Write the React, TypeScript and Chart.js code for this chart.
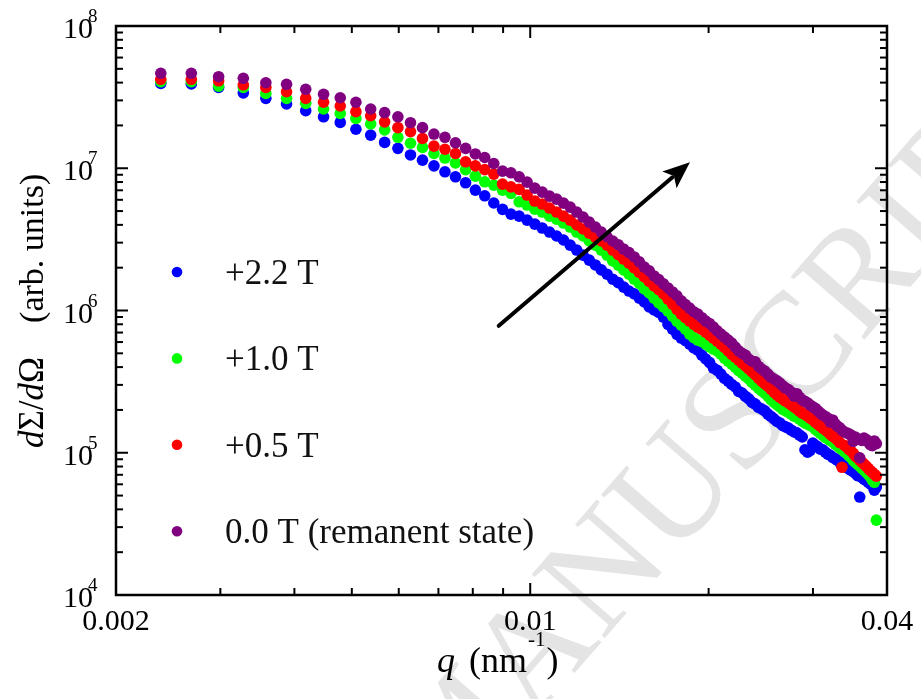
import React, { useEffect, useRef } from "react";
import { Chart, registerables } from "chart.js";

Chart.register(...registerables);

// ---------------- data ----------------
const Q_NM = [
  0.00238, 0.00268, 0.00298, 0.00328, 0.00358, 0.00388, 0.00418, 0.00448, 0.00478, 0.00508,
  0.00538, 0.00568, 0.00598, 0.00628, 0.00658, 0.00688, 0.00718, 0.00748, 0.00778, 0.00808,
  0.00838, 0.00868, 0.00898, 0.00928, 0.00958, 0.00988, 0.01018, 0.01048, 0.01078, 0.01108,
  0.01138, 0.01168, 0.01198, 0.01228, 0.01258, 0.01288, 0.01318,
  0.01348, 0.01378, 0.01408, 0.01438, 0.01468, 0.01498, 0.01528, 0.01558, 0.01588, 0.01618,
  0.01648, 0.01678, 0.01708, 0.01738, 0.01768, 0.01798, 0.01828, 0.01858, 0.01888, 0.01918,
  0.01948, 0.01978, 0.02008, 0.02038, 0.02068, 0.02098, 0.02128, 0.02158, 0.02188, 0.02218,
  0.02248, 0.02278, 0.02308, 0.02338, 0.02368, 0.02398, 0.02428, 0.02458, 0.02488, 0.02518,
  0.02548, 0.02578, 0.02608, 0.02638, 0.02668, 0.02698, 0.02728, 0.02758, 0.02788, 0.02818,
  0.02848, 0.02878, 0.02908, 0.02938, 0.02968, 0.02998, 0.03028, 0.03058, 0.03088, 0.03118,
  0.03148, 0.03178, 0.03208, 0.03238, 0.03268, 0.03298, 0.03328, 0.03358, 0.03388, 0.03418,
  0.03448, 0.03478, 0.03508, 0.03538, 0.03568, 0.03598, 0.03628, 0.03658, 0.03688, 0.03718,
  0.03748, 0.03778, 0.03808, 0.03838,
];

const I_2_2T = [
  3.95e7, 3.91e7, 3.70e7, 3.39e7, 3.10e7, 2.83e7, 2.54e7, 2.30e7, 2.10e7, 1.88e7,
  1.71e7, 1.52e7, 1.38e7, 1.24e7, 1.14e7, 1.04e7, 9.44e6, 8.71e6, 7.90e6, 7.02e6,
  6.40e6, 5.70e6, 5.14e6, 4.76e6, 4.61e6, 4.32e6, 4.05e6, 3.80e6, 3.56e6, 3.34e6,
  3.13e6, 2.88e6, 2.66e6, 2.45e6, 2.26e6, 2.09e6, 1.93e6,
  1.80e6, 1.66e6, 1.57e6, 1.46e6, 1.37e6, 1.31e6, 1.22e6, 1.15e6, 1.06e6, 1.01e6,
  9.70e5, 8.99e5, 8.00e5, 7.40e5, 6.80e5, 6.40e5, 6.15e5, 5.81e5, 5.45e5, 5.27e5,
  4.85e5, 4.56e5, 4.30e5, 3.94e5, 3.80e5, 3.57e5, 3.33e5, 3.19e5, 3.02e5, 2.90e5,
  2.70e5, 2.63e5, 2.49e5, 2.39e5, 2.26e5, 2.20e5, 2.08e5, 2.03e5, 1.97e5, 1.87e5,
  1.80e5, 1.73e5, 1.66e5, 1.62e5, 1.55e5, 1.52e5, 1.49e5, 1.44e5, 1.40e5, 1.38e5,
  1.33e5, 1.29e5, 1.05e5, 1.01e5, 1.04e5, 1.17e5, 1.13e5, 1.10e5, 1.06e5, 1.05e5,
  1.01e5, 9.79e4, 9.60e4, 9.28e4, 9.10e4, 8.88e4, 8.60e4, 8.32e4, 8.10e4, 7.89e4,
  7.70e4, 7.55e4, 7.35e4, 7.20e4, 6.90e4, 4.88e4, 6.70e4, 6.53e4, 6.40e4, 6.22e4,
  6.05e4, 5.93e4, 5.45e4, 5.74e4,
];

const I_1_0T = [
  4.06e7, 4.06e7, 3.78e7, 3.70e7, 3.36e7, 3.10e7, 2.86e7, 2.61e7, 2.43e7, 2.24e7,
  2.05e7, 1.86e7, 1.65e7, 1.50e7, 1.40e7, 1.27e7, 1.18e7, 1.09e7, 9.78e6, 8.80e6,
  8.03e6, 7.61e6, 7.02e6, 6.66e6, 5.81e6, 5.51e6, 5.16e6, 4.92e6, 4.61e6, 4.39e6,
  4.12e6, 3.86e6, 3.56e6, 3.34e6, 3.08e6, 2.88e6, 2.66e6,
  2.45e6, 2.23e6, 2.08e6, 1.93e6, 1.80e6, 1.66e6, 1.55e6, 1.42e6, 1.33e6, 1.22e6,
  1.13e6, 1.06e6, 9.90e5, 9.14e5, 8.40e5, 7.89e5, 7.40e5, 6.83e5, 6.45e5, 6.19e5,
  6.05e5, 5.81e5, 5.55e5, 5.36e5, 5.20e5, 4.94e5, 4.62e5, 4.41e5, 4.20e5, 4.00e5,
  3.78e5, 3.63e5, 3.45e5, 3.30e5, 3.12e5, 2.99e5, 2.84e5, 2.72e5, 2.62e5, 2.50e5,
  2.36e5, 2.27e5, 2.18e5, 2.10e5, 2.02e5, 1.97e5, 1.93e5, 1.87e5, 1.81e5, 1.78e5,
  1.72e5, 1.67e5, 1.62e5, 1.59e5, 1.56e5, 1.52e5, 1.46e5, 1.42e5, 1.37e5, 1.33e5,
  1.28e5, 1.25e5, 1.22e5, 1.19e5, 1.15e5, 1.12e5, 1.08e5, 1.06e5, 1.02e5, 9.96e4,
  9.55e4, 9.28e4, 8.85e4, 8.56e4, 8.30e4, 8.06e4, 7.80e4, 7.55e4, 7.30e4, 7.08e4,
  6.80e4, 6.42e4, 6.20e4, 3.36e4,
];

const I_0_5T = [
  4.22e7, 4.22e7, 4.12e7, 3.86e7, 3.70e7, 3.45e7, 3.10e7, 2.91e7, 2.74e7, 2.50e7,
  2.34e7, 2.12e7, 1.93e7, 1.81e7, 1.62e7, 1.43e7, 1.36e7, 1.27e7, 1.11e7, 1.04e7,
  9.78e6, 9.10e6, 7.74e6, 7.40e6, 7.10e6, 6.48e6, 5.88e6, 5.60e6, 5.25e6, 4.92e6,
  4.61e6, 4.32e6, 3.99e6, 3.74e6, 3.50e6, 3.28e6, 3.08e6,
  2.88e6, 2.66e6, 2.47e6, 2.30e6, 2.15e6, 1.99e6, 1.85e6, 1.72e6, 1.60e6, 1.49e6,
  1.40e6, 1.31e6, 1.20e6, 1.11e6, 1.02e6, 9.44e5, 8.90e5, 8.43e5, 8.00e5, 7.64e5,
  7.35e5, 7.05e5, 6.70e5, 6.40e5, 6.10e5, 5.81e5, 5.50e5, 5.19e5, 4.92e5, 4.70e5,
  4.48e5, 4.27e5, 4.08e5, 3.88e5, 3.70e5, 3.52e5, 3.35e5, 3.19e5, 3.05e5, 2.94e5,
  2.80e5, 2.67e5, 2.55e5, 2.46e5, 2.38e5, 2.31e5, 2.24e5, 2.17e5, 2.10e5, 2.03e5,
  1.96e5, 1.90e5, 1.86e5, 1.81e5, 1.75e5, 1.70e5, 1.64e5, 1.59e5, 1.54e5, 1.49e5,
  1.45e5, 1.40e5, 1.35e5, 1.31e5, 1.27e5, 1.23e5, 1.18e5, 7.9e4, 1.13e5, 1.10e5,
  1.06e5, 1.03e5, 9.90e4, 9.48e4, 9.20e4, 8.88e4, 8.60e4, 8.32e4, 8.05e4, 7.77e4,
  7.50e4, 7.28e4, 7.05e4, 6.85e4,
];

const I_0_0T = [
  4.65e7, 4.65e7, 4.40e7, 4.29e7, 3.99e7, 3.89e7, 3.59e7, 3.31e7, 3.13e7, 2.91e7,
  2.61e7, 2.46e7, 2.30e7, 2.09e7, 1.93e7, 1.74e7, 1.65e7, 1.51e7, 1.38e7, 1.26e7,
  1.19e7, 1.08e7, 9.55e6, 9.29e6, 8.71e6, 7.99e6, 7.25e6, 6.80e6, 6.37e6, 6.07e6,
  5.69e6, 5.33e6, 4.92e6, 4.54e6, 4.18e6, 3.86e6, 3.56e6,
  3.30e6, 3.08e6, 2.90e6, 2.70e6, 2.55e6, 2.38e6, 2.20e6, 2.02e6, 1.90e6, 1.75e6,
  1.65e6, 1.54e6, 1.44e6, 1.35e6, 1.27e6, 1.17e6, 1.10e6, 1.04e6, 9.80e5, 9.44e5,
  8.90e5, 8.43e5, 8.10e5, 7.64e5, 7.20e5, 6.83e5, 6.50e5, 6.19e5, 5.90e5, 5.53e5,
  5.20e5, 5.00e5, 4.85e5, 4.56e5, 4.40e5, 4.35e5, 4.05e5, 3.88e5, 3.75e5, 3.57e5,
  3.40e5, 3.30e5, 3.20e5, 3.09e5, 2.95e5, 2.85e5, 2.78e5, 2.67e5, 2.50e5, 2.60e5,
  2.45e5, 2.35e5, 2.30e5, 2.24e5, 2.16e5, 2.10e5, 2.05e5, 1.97e5, 1.90e5, 1.84e5,
  1.80e5, 1.75e5, 1.64e5, 1.70e5, 1.60e5, 1.54e5, 1.50e5, 1.44e5, 1.40e5, 1.38e5,
  1.36e5, 1.33e5, 1.20e5, 1.29e5, 1.25e5, 9.2e4, 1.22e5, 1.27e5, 1.24e5, 1.19e5,
  1.14e5, 1.12e5, 1.21e5, 1.16e5,
];

const SERIES_LABELS = ["+2.2 T", "+1.0 T", "+0.5 T", "0.0 T (remanent state)"];
const SERIES_VALUES = [I_2_2T, I_1_0T, I_0_5T, I_0_0T];
const SERIES_COLORS = ["#0000ff", "#00ff00", "#ff0000", "#800080"];

const X_MIN = 0.002;
const X_MAX = 0.04;
const Y_MIN = 1e4;
const Y_MAX = 1e8;
const X_TICK_LABELS = [0.002, 0.01, 0.04];
const X_MAJOR_TICKS = [0.01];
const X_MINOR_TICKS = [0.003, 0.004, 0.005, 0.006, 0.007, 0.008, 0.009, 0.02, 0.03];
const Y_DECADES = [4, 5, 6, 7, 8];

const ARROW_FROM = { q: 0.00885, i: 7.8e5 };
const ARROW_TO = { q: 0.0186, i: 1.1e7 };

const WATERMARK_PRE = "ACCEPTED M";
const WATERMARK_MAIN = "ANUSCRIPT";

// ---------------- drawing helpers ----------------
const SERIF = "'Liberation Serif', 'Times New Roman', serif";
const W = 921;
const H = 699;

function line(ctx: CanvasRenderingContext2D, x1: number, y1: number, x2: number, y2: number) {
  ctx.beginPath();
  ctx.moveTo(x1, y1);
  ctx.lineTo(x2, y2);
  ctx.stroke();
}

const decorPlugin = {
  id: "decor",
  beforeDraw(chart: any) {
    const ctx: CanvasRenderingContext2D = chart.ctx;
    ctx.save();
    ctx.fillStyle = "#ffffff";
    ctx.fillRect(0, 0, chart.width, chart.height);
    // watermark
    ctx.translate(532, 722);
    ctx.rotate((-49 * Math.PI) / 180);
    ctx.font = `148px ${SERIF}`;
    ctx.fillStyle = "#e4e4e4";
    ctx.textBaseline = "alphabetic";
    ctx.textAlign = "left";
    const pre = ctx.measureText(WATERMARK_PRE).width;
    ctx.fillText(WATERMARK_PRE + WATERMARK_MAIN, -pre, 0);
    ctx.restore();
  },
  afterDatasetsDraw(chart: any) {
    const ctx: CanvasRenderingContext2D = chart.ctx;
    const a = chart.chartArea;
    const xs = chart.scales.x;
    const ys = chart.scales.y;
    ctx.save();
    ctx.strokeStyle = "#000";
    ctx.fillStyle = "#000";
    ctx.lineCap = "butt";

    // ticks (inward, mirrored)
    ctx.lineWidth = 2;
    for (const d of Y_DECADES) {
      for (let m = 1; m <= 9; m++) {
        const v = m * Math.pow(10, d);
        if (v < Y_MIN || v > Y_MAX) continue;
        const py = ys.getPixelForValue(v);
        const len = m === 1 ? 12 : 7;
        line(ctx, a.left, py, a.left + len, py);
        line(ctx, a.right, py, a.right - len, py);
      }
    }
    for (const v of X_MINOR_TICKS) {
      const px = xs.getPixelForValue(v);
      line(ctx, px, a.bottom, px, a.bottom - 7);
      line(ctx, px, a.top, px, a.top + 7);
    }
    for (const v of X_MAJOR_TICKS) {
      const px = xs.getPixelForValue(v);
      line(ctx, px, a.bottom, px, a.bottom - 12);
      line(ctx, px, a.top, px, a.top + 12);
    }

    // frame
    ctx.lineWidth = 2.5;
    ctx.strokeRect(a.left, a.top, a.right - a.left, a.bottom - a.top);

    // y tick labels 10^n
    ctx.textBaseline = "alphabetic";
    for (const d of Y_DECADES) {
      const py = ys.getPixelForValue(Math.pow(10, d));
      ctx.font = `30px ${SERIF}`;
      ctx.textAlign = "right";
      ctx.fillText("10", a.left - 23, py + 12);
      ctx.font = `19px ${SERIF}`;
      ctx.textAlign = "left";
      ctx.fillText(String(d), a.left - 28, py - 4);
    }

    // x tick labels
    ctx.font = `30px ${SERIF}`;
    ctx.textAlign = "center";
    for (const v of X_TICK_LABELS) {
      ctx.fillText(String(v), xs.getPixelForValue(v), a.bottom + 35);
    }

    // x title: q (nm^-1)
    const bx = 437;
    const by = a.bottom + 77;
    ctx.textAlign = "left";
    ctx.font = `italic 36px ${SERIF}`;
    ctx.fillText("q", bx, by);
    ctx.font = `36px ${SERIF}`;
    const nmX = bx + 32;
    ctx.fillText("(nm", nmX, by);
    const wNm = ctx.measureText("(nm").width;
    ctx.font = `21px ${SERIF}`;
    const supX = nmX + wNm + 1;
    ctx.fillText("-1", supX, by - 26);
    const wSup = ctx.measureText("-1").width;
    ctx.font = `36px ${SERIF}`;
    ctx.fillText(")", supX + wSup + 1, by);

    // y title: dΣ/dΩ  (arb. units)
    ctx.save();
    ctx.translate(43, 448);
    ctx.rotate(-Math.PI / 2);
    let u = 0;
    const parts: [string, boolean][] = [
      ["d", true],
      ["Σ", false],
      ["/", false],
      ["d", true],
      ["Ω", false],
    ];
    for (const [t, it] of parts) {
      ctx.font = `${it ? "italic " : ""}35px ${SERIF}`;
      ctx.fillText(t, u, 0);
      u += ctx.measureText(t).width;
    }
    ctx.font = `34px ${SERIF}`;
    ctx.fillText("(arb. units)", u + 34, 0);
    ctx.restore();

    // legend
    const ds = chart.data.datasets;
    for (let k = 0; k < ds.length; k++) {
      const cy = 272 + k * 86.4;
      ctx.fillStyle = ds[k].backgroundColor;
      ctx.beginPath();
      ctx.arc(177, cy, 5.3, 0, Math.PI * 2);
      ctx.fill();
      ctx.fillStyle = "#111";
      ctx.font = `35px ${SERIF}`;
      ctx.textAlign = "left";
      ctx.fillText(ds[k].label, 225, cy + 12);
    }

    // arrow
    const x1 = xs.getPixelForValue(ARROW_FROM.q);
    const y1 = ys.getPixelForValue(ARROW_FROM.i);
    const x2 = xs.getPixelForValue(ARROW_TO.q);
    const y2 = ys.getPixelForValue(ARROW_TO.i);
    const ang = Math.atan2(y2 - y1, x2 - x1);
    const headLen = 27;
    const headW = 11;
    const hx = x2 - headLen * Math.cos(ang);
    const hy = y2 - headLen * Math.sin(ang);
    ctx.strokeStyle = "#000";
    ctx.fillStyle = "#000";
    ctx.lineWidth = 4;
    ctx.lineCap = "round";
    line(ctx, x1, y1, hx + 4 * Math.cos(ang), hy + 4 * Math.sin(ang));
    ctx.beginPath();
    ctx.moveTo(x2, y2);
    ctx.lineTo(hx + headW * Math.sin(ang), hy - headW * Math.cos(ang));
    ctx.lineTo(hx + 6 * Math.cos(ang), hy + 6 * Math.sin(ang));
    ctx.lineTo(hx - headW * Math.sin(ang), hy + headW * Math.cos(ang));
    ctx.closePath();
    ctx.fill();

    ctx.restore();
  },
};

export default function App() {
  const canvasRef = useRef<HTMLCanvasElement | null>(null);

  useEffect(() => {
    const canvas = canvasRef.current;
    if (!canvas) return;
    const datasets = SERIES_LABELS.map((label, k) => ({
      label,
      data: Q_NM.map((q, i) => ({ x: q, y: SERIES_VALUES[k][i] })),
      backgroundColor: SERIES_COLORS[k],
      borderColor: SERIES_COLORS[k],
      borderWidth: 0,
      pointRadius: 5.8,
      pointHoverRadius: 5.8,
      order: SERIES_LABELS.length - k,
    }));
    const chart = new Chart(canvas, {
      type: "scatter",
      data: { datasets },
      options: {
        responsive: false,
        animation: false,
        devicePixelRatio: 1,
        events: [],
        layout: { padding: { top: 26, right: 34, left: 0, bottom: 0 } },
        plugins: { legend: { display: false }, tooltip: { enabled: false } },
        scales: {
          x: {
            type: "logarithmic",
            min: X_MIN,
            max: X_MAX,
            grid: { display: false, drawTicks: false },
            border: { display: false },
            ticks: { display: false },
            afterFit: (s: any) => {
              s.height = 104;
            },
          },
          y: {
            type: "logarithmic",
            min: Y_MIN,
            max: Y_MAX,
            grid: { display: false, drawTicks: false },
            border: { display: false },
            ticks: { display: false },
            afterFit: (s: any) => {
              s.width = 116;
            },
          },
        },
      } as any,
      plugins: [decorPlugin as any],
    });
    return () => chart.destroy();
  }, []);

  return (
    <div style={{ position: "fixed", left: 0, top: 0, width: W, height: H, background: "#fff" }}>
      <canvas ref={canvasRef} width={W} height={H} style={{ display: "block" }} />
    </div>
  );
}
